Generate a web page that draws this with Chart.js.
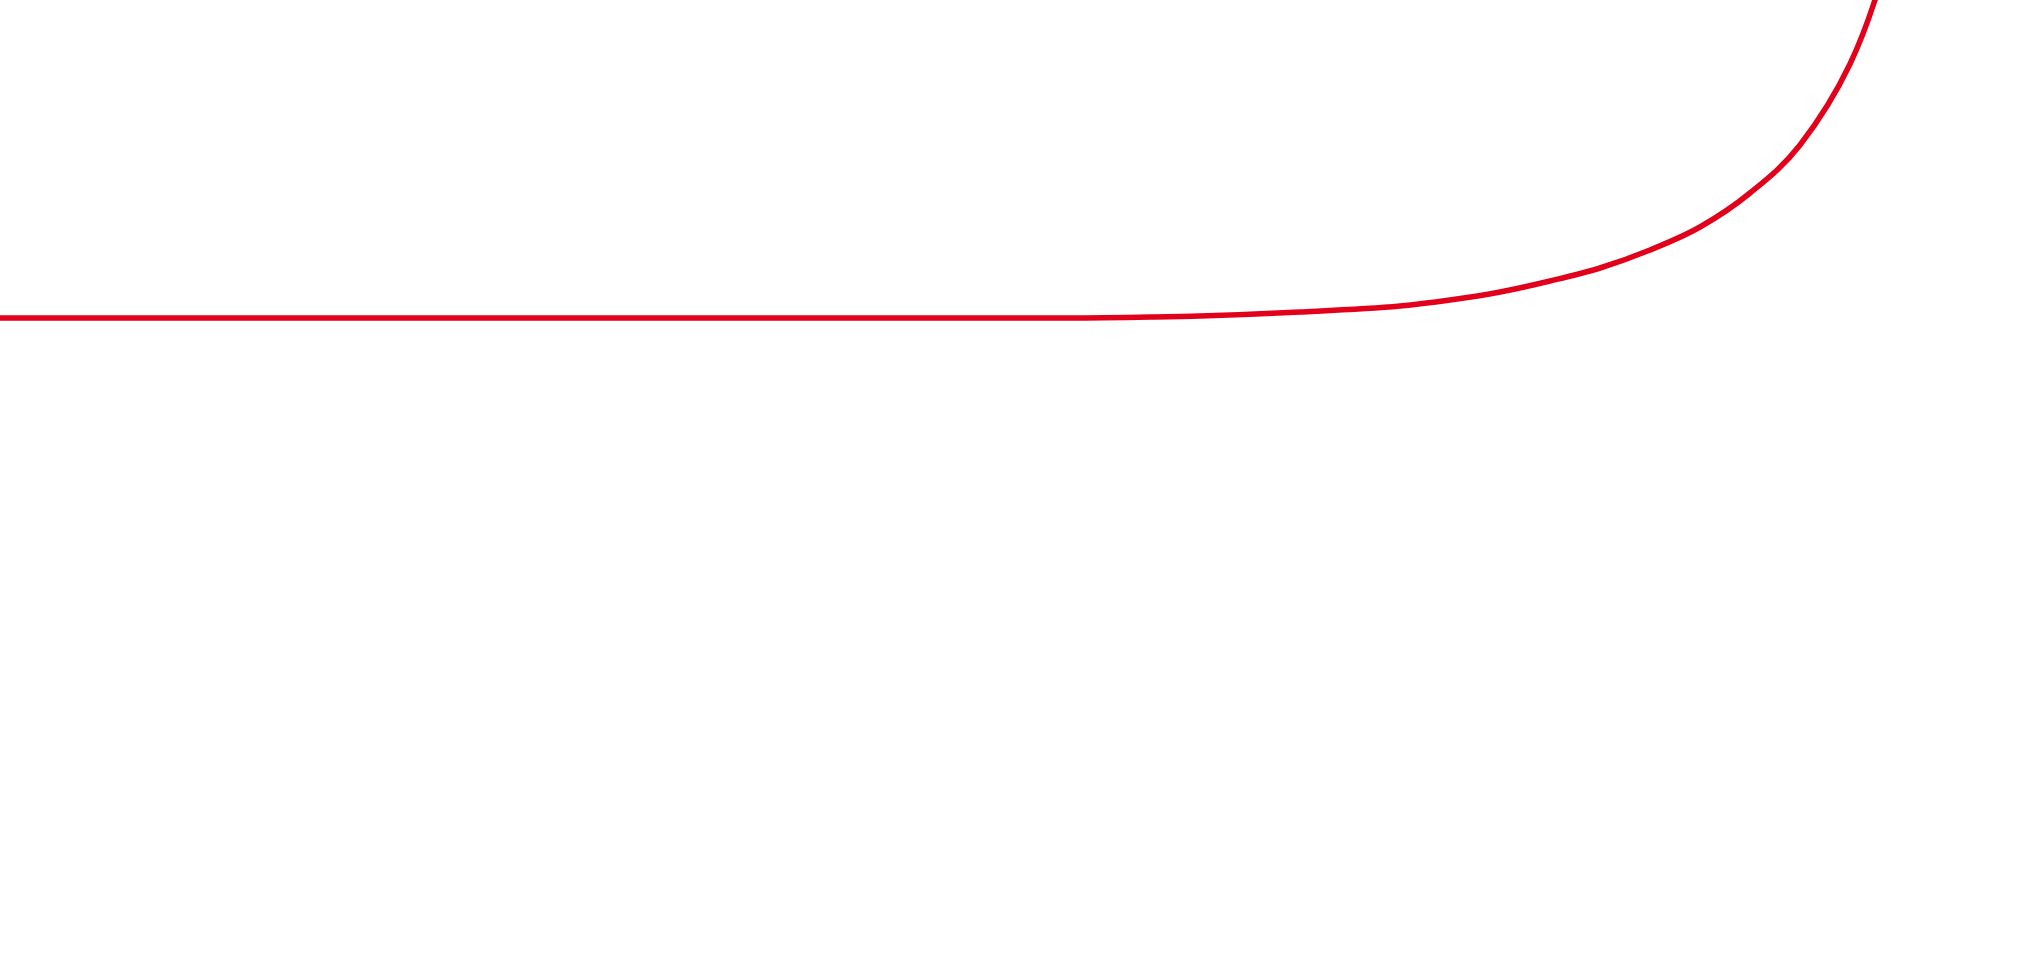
<!DOCTYPE html>
<html>
<head>
<meta charset="utf-8">
<script src="https://cdn.jsdelivr.net/npm/chart.js@4/dist/chart.umd.min.js"></script>
<style>
  html, body { margin: 0; padding: 0; background: #ffffff; overflow: hidden; }
  #wrap { width: 2018px; height: 960px; position: relative; }
  canvas { display: block; }
</style>
</head>
<body>
<div id="wrap"><canvas id="c" width="2018" height="960"></canvas></div>
<script>
// Values (x along the horizontal, y upward)
const xValues = [0, 1062, 1150, 1200, 1300, 1400, 1450, 1500, 1550, 1600, 1650, 1700, 1750, 1800, 1850, 1875, 1890];
const yValues = [642, 642, 643, 644, 648, 654, 660, 668, 679, 692, 710, 733, 767, 815, 896, 960, 1013];
const xRange = [0, 2018];
const yRange = [0, 960];

const points = xValues.map((x, i) => ({ x: x, y: yValues[i] }));

new Chart(document.getElementById('c'), {
  type: 'line',
  data: {
    datasets: [{
      data: points,
      borderColor: '#e2001a',
      borderWidth: 5.5,
      pointRadius: 0,
      fill: false,
      cubicInterpolationMode: 'monotone'
    }]
  },
  options: {
    responsive: false,
    devicePixelRatio: 1,
    animation: false,
    layout: { padding: 0 },
    plugins: { legend: { display: false }, tooltip: { enabled: false }, title: { display: false } },
    scales: {
      x: { type: 'linear', min: xRange[0], max: xRange[1], display: false },
      y: { type: 'linear', min: yRange[0], max: yRange[1], display: false }
    }
  }
});
</script>
</body>
</html>
